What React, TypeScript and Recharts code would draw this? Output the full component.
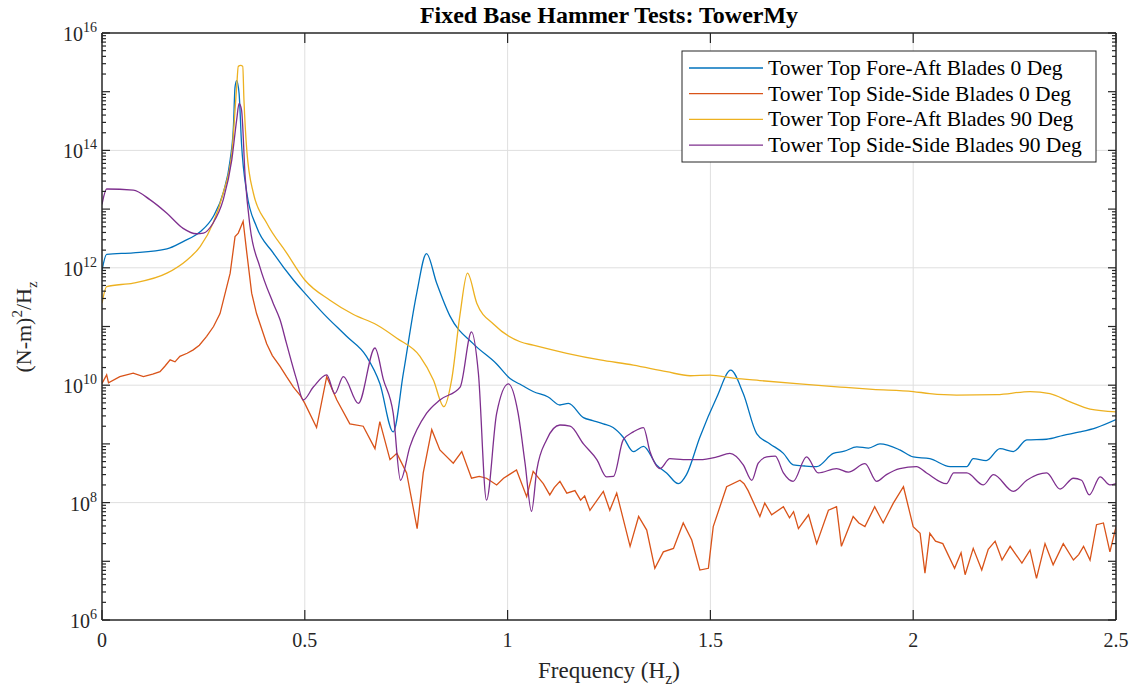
import { Line, LineChart, ReferenceLine, XAxis, YAxis } from "recharts"

// [frequency (Hz), PSD ((N-m)^2/Hz)]
type Point = [number, number]

const foreAft0: Point[] = [
    [0, 9e11], [0.0115, 1.7e12], [0.077, 1.8e12], [0.16, 2.1e12], [0.2, 2.8e12],
    [0.242, 4.1e12], [0.274, 7.4e12], [0.299, 1.9e13], [0.316, 6.9e13], [0.324, 2.5e14],
    [0.328, 1.2e15], [0.332, 1.55e15], [0.338, 9.3e14], [0.344, 1.3e14], [0.357, 1.9e13],
    [0.381, 5e12], [0.422, 1.8e12], [0.472, 6.2e11], [0.5, 3.7e11], [0.546, 1.66e11],
    [0.603, 6.8e10], [0.652, 3.1e10], [0.685, 1.07e10], [0.718, 1.6e9], [0.743, 1.6e10],
    [0.776, 3.7e11], [0.8, 1.75e12], [0.825, 5.5e11], [0.858, 1.5e11], [0.915, 5.1e10],
    [0.973, 2.3e10], [1.006, 1.3e10], [1.035, 1.0e10], [1.063, 7.8e9], [1.1, 6.3e9],
    [1.129, 4.6e9], [1.15, 4.9e9], [1.187, 2.8e9], [1.21, 2.5e9], [1.236, 2.2e9],
    [1.26, 1.9e9], [1.285, 1.3e9], [1.31, 7.4e8], [1.335, 9.1e8], [1.367, 4.4e8],
    [1.392, 3.2e8], [1.421, 2.1e8], [1.441, 3e8], [1.474, 1.3e9], [1.516, 6.3e9],
    [1.55, 1.8e10], [1.581, 7.2e9], [1.614, 1.5e9], [1.647, 1.0e9], [1.68, 6.9e8],
    [1.704, 4.4e8], [1.733, 4.2e8], [1.762, 4.1e8], [1.803, 6.9e8], [1.83, 7.5e8],
    [1.861, 8.9e8], [1.89, 8.5e8], [1.918, 1.0e9], [1.967, 7.9e8], [2.0, 6.0e8],
    [2.041, 5.6e8], [2.091, 4.1e8], [2.132, 4.1e8], [2.148, 5.6e8], [2.18, 5.2e8],
    [2.214, 8.3e8], [2.247, 7.4e8], [2.28, 1.17e9], [2.329, 1.2e9], [2.37, 1.4e9],
    [2.411, 1.6e9], [2.452, 1.9e9], [2.5, 2.6e9],
]

const sideSide0: Point[] = [
    [0, 1.07e10], [0.0115, 1.5e10], [0.016, 1.1e10], [0.044, 1.4e10], [0.077, 1.6e10],
    [0.102, 1.4e10], [0.125, 1.55e10], [0.143, 1.7e10], [0.155, 2.1e10], [0.168, 2.7e10],
    [0.18, 2.5e10], [0.192, 3.1e10], [0.21, 3.5e10], [0.225, 4.0e10], [0.24, 4.8e10],
    [0.258, 6.8e10], [0.275, 1.0e11], [0.291, 1.66e11], [0.316, 8.1e11], [0.328, 3.4e12],
    [0.336, 3.9e12], [0.348, 6.2e12], [0.357, 1.8e12], [0.369, 3.7e11], [0.381, 1.66e11],
    [0.406, 5.1e10], [0.42, 3.2e10], [0.439, 2.1e10], [0.455, 1.4e10], [0.472, 9.3e9],
    [0.49, 6.5e9], [0.5, 4.9e9], [0.529, 1.9e9], [0.554, 1.4e10], [0.579, 5.6e9],
    [0.611, 2.2e9], [0.644, 2.0e9], [0.673, 8.3e8], [0.685, 2.4e9], [0.71, 5.4e8],
    [0.727, 6.9e8], [0.751, 3.2e8], [0.777, 3.6e7], [0.792, 3.2e8], [0.813, 1.75e9],
    [0.833, 7.9e8], [0.866, 4.7e8], [0.887, 7.4e8], [0.911, 2.6e8], [0.93, 2.8e8],
    [0.948, 2.6e8], [0.973, 2.0e8], [0.99, 2.6e8], [1.022, 3.6e8], [1.047, 1.26e8],
    [1.063, 3.4e8], [1.088, 2.1e8], [1.104, 1.35e8], [1.115, 1.8e8], [1.129, 2.3e8],
    [1.146, 1.45e8], [1.166, 1.6e8], [1.18, 1.1e8], [1.19, 1.3e8], [1.203, 7.4e7],
    [1.236, 1.55e8], [1.252, 7.4e7], [1.269, 1.45e8], [1.302, 1.8e7], [1.323, 5.8e7],
    [1.343, 3.4e7], [1.363, 7.6e6], [1.384, 1.45e7], [1.409, 1.66e7], [1.433, 4.5e7],
    [1.454, 2.3e7], [1.474, 7.1e6], [1.495, 7.6e6], [1.507, 3.9e7], [1.54, 1.86e8],
    [1.573, 2.4e8], [1.583, 2.1e8], [1.593, 1.6e8], [1.622, 5.8e7], [1.634, 9.8e7],
    [1.651, 6.2e7], [1.68, 8.5e7], [1.695, 5.5e7], [1.705, 7e7], [1.717, 3.6e7],
    [1.742, 6.2e7], [1.762, 2.0e7], [1.791, 7.4e7], [1.811, 8.5e7], [1.823, 1.8e7],
    [1.852, 5.8e7], [1.866, 4.5e7], [1.881, 3.9e7], [1.905, 8.5e7], [1.926, 4.5e7],
    [1.951, 9.8e7], [1.976, 1.86e8], [2.0, 3.9e7], [2.017, 3.0e7], [2.029, 6.3e6],
    [2.041, 3.0e7], [2.055, 2.2e7], [2.073, 2.0e7], [2.102, 7.6e6], [2.118, 1.4e7],
    [2.128, 5.9e6], [2.148, 1.66e7], [2.169, 7.1e6], [2.185, 1.6e7], [2.202, 2.2e7],
    [2.219, 1.05e7], [2.239, 1.8e7], [2.268, 9.3e6], [2.288, 1.55e7], [2.304, 5.1e6],
    [2.325, 2.0e7], [2.345, 8.7e6], [2.37, 2.0e7], [2.395, 1.05e7], [2.408, 1.3e7],
    [2.42, 1.8e7], [2.436, 1.05e7], [2.452, 4.2e7], [2.469, 4.5e7], [2.485, 1.45e7],
    [2.5, 3.9e7],
]

const foreAft90: Point[] = [
    [0, 2.5e11], [0.0115, 4.8e11], [0.077, 5.5e11], [0.16, 8.1e11], [0.209, 1.35e12],
    [0.242, 2.3e12], [0.274, 5.8e12], [0.299, 1.9e13], [0.32, 8.9e13], [0.332, 1.2e15],
    [0.336, 2.7e15], [0.342, 2.8e15], [0.347, 2.7e15], [0.35, 7.2e14], [0.357, 1.0e14],
    [0.373, 1.9e13], [0.406, 5.8e12], [0.455, 1.8e12], [0.5, 6.2e11], [0.562, 2.8e11],
    [0.62, 1.6e11], [0.677, 1.07e11], [0.727, 6.3e10], [0.784, 3.1e10], [0.817, 1.23e10],
    [0.843, 4.3e9], [0.862, 1.23e10], [0.883, 1.66e11], [0.901, 8.1e11], [0.924, 2.5e11],
    [0.965, 1.1e11], [1.031, 5.5e10], [1.063, 4.8e10], [1.146, 3.5e10], [1.228, 2.7e10],
    [1.31, 2.2e10], [1.392, 1.7e10], [1.45, 1.45e10], [1.499, 1.48e10], [1.557, 1.32e10],
    [1.622, 1.2e10], [1.72, 1.05e10], [1.82, 9.3e9], [1.9, 8.5e9], [2.0, 7.8e9],
    [2.041, 7.2e9], [2.107, 6.8e9], [2.206, 6.9e9], [2.288, 7.8e9], [2.337, 7.2e9],
    [2.387, 5.2e9], [2.436, 3.9e9], [2.5, 3.5e9],
]

const sideSide90: Point[] = [
    [0, 1.2e13], [0.0115, 2.2e13], [0.077, 2.1e13], [0.118, 1.45e13], [0.16, 8.5e12],
    [0.2, 4.7e12], [0.233, 3.8e12], [0.25, 3.9e12], [0.274, 5.8e12], [0.299, 1.45e13],
    [0.32, 6.9e13], [0.332, 3.3e14], [0.338, 6.3e14], [0.344, 4.9e14], [0.353, 3.5e13],
    [0.365, 5e12], [0.389, 1.05e12], [0.422, 2.5e11], [0.439, 1.3e11], [0.455, 5.1e10],
    [0.48, 1.23e10], [0.496, 5.6e9], [0.521, 9.3e9], [0.554, 1.5e10], [0.574, 7.2e9],
    [0.595, 1.4e10], [0.632, 4.9e9], [0.673, 4.3e10], [0.694, 1.23e10], [0.718, 3.3e9],
    [0.736, 2.4e8], [0.759, 8.9e8], [0.8, 3.3e9], [0.833, 5.6e9], [0.883, 9.3e9],
    [0.911, 8.1e10], [0.928, 1.6e10], [0.948, 1.1e8], [0.973, 3.3e9], [1.002, 1.05e10],
    [1.026, 3.3e9], [1.043, 4.7e8], [1.059, 7.1e7], [1.072, 3.6e8], [1.096, 1.17e9],
    [1.129, 2.1e9], [1.154, 2.0e9], [1.187, 1.0e9], [1.22, 5.4e8], [1.244, 2.75e8],
    [1.261, 2.8e8], [1.285, 1.17e9], [1.31, 1.6e9], [1.335, 1.9e9], [1.351, 7.4e8],
    [1.376, 3.8e8], [1.4, 5.6e8], [1.433, 5.4e8], [1.474, 5.4e8], [1.516, 6.0e8],
    [1.548, 6.9e8], [1.581, 4.4e8], [1.602, 2.4e8], [1.618, 4.7e8], [1.639, 6.0e8],
    [1.66, 6.2e8], [1.68, 3.2e8], [1.704, 2.3e8], [1.737, 6.0e8], [1.766, 3.2e8],
    [1.811, 3.8e8], [1.84, 3.3e8], [1.881, 4.6e8], [1.91, 2.3e8], [1.934, 3.0e8],
    [1.967, 3.8e8], [2.008, 4.1e8], [2.033, 3.2e8], [2.082, 2.1e8], [2.1, 3.2e8],
    [2.132, 3.2e8], [2.173, 2.0e8], [2.198, 3.0e8], [2.247, 1.55e8], [2.28, 2.4e8],
    [2.329, 3.2e8], [2.362, 1.7e8], [2.395, 2.6e8], [2.415, 2.4e8], [2.434, 1.35e8],
    [2.461, 2.75e8], [2.485, 2.0e8], [2.5, 2.1e8],
]

const seriesNames = [
    "Tower Top Fore-Aft Blades 0 Deg",
    "Tower Top Side-Side Blades 0 Deg",
    "Tower Top Fore-Aft Blades 90 Deg",
    "Tower Top Side-Side Blades 90 Deg",
]
const seriesColors = ["#0072BD", "#D95319", "#EDB120", "#7E2F8E"]
const seriesPoints = [foreAft0, sideSide0, foreAft90, sideSide90]
// the side-side 0 deg record is noisy, keep it as straight segments
const seriesCurve = ["monotone", "linear", "monotone", "monotone"] as const

const freqTicks = [0, 0.5, 1, 1.5, 2, 2.5]
const freqGrid = [0.5, 1, 1.5, 2]
const psdGrid = [1e8, 1e10, 1e12, 1e14]

const W = 1135
const H = 693
const PLOT = { left: 102, top: 33, right: 1116, bottom: 620 }
const AXIS = "#262626"
const GRID = "#dfdfdf"
const FONT = '"Liberation Serif", "Times New Roman", serif'

// every decade plus its 2..9 minor steps
const psdTicks: number[] = []
for (let e = 6; e < 16; e++) for (let m = 1; m <= 9; m++) psdTicks.push(m * 10 ** e)
psdTicks.push(1e16)

function YTick({ x, y, payload, side }: any) {
    const v = payload.value
    const exp = Math.round(Math.log10(v))
    const major = v === 10 ** exp
    const len = major ? 8 : 4
    const dir = side === "left" ? 1 : -1
    return (
        <g>
            <line x1={x} x2={x + dir * len} y1={y} y2={y} stroke={AXIS} strokeWidth={1.2} />
            {side === "left" && major && exp % 2 === 0 && (
                <text x={x - 5} y={y + 8} textAnchor="end" fontFamily={FONT} fontSize={20} fill={AXIS}>
                    10<tspan dy={-9} fontSize={14}>{exp}</tspan>
                </text>
            )}
        </g>
    )
}

function XTick({ x, y, payload, side }: any) {
    const dir = side === "bottom" ? -1 : 1
    return (
        <g>
            <line x1={x} x2={x} y1={y} y2={y + dir * 10} stroke={AXIS} strokeWidth={1.2} />
            {side === "bottom" && (
                <text x={x} y={y + 27} textAnchor="middle" fontFamily={FONT} fontSize={20} fill={AXIS}>
                    {payload.value}
                </text>
            )}
        </g>
    )
}

// axes need a non-zero size to be drawn, so each one takes 1px of margin
const axisSize = 1

export default function App() {
    const series = seriesPoints.map((pts, i) => ({
        name: seriesNames[i],
        color: seriesColors[i],
        curve: seriesCurve[i],
        data: pts.map(([f, v]) => ({ f, v })),
    }))

    const common = {
        type: "number" as const,
        allowDataOverflow: true,
        interval: 0 as const,
        tickSize: 0,
        tickMargin: 0,
        tickLine: false,
        axisLine: { stroke: AXIS, strokeWidth: 1.5 },
    }

    return (
        <div style={{ position: "absolute", left: 0, top: 0, width: W, height: H, background: "#fff" }}>
            <LineChart
                width={W}
                height={H}
                margin={{
                    top: PLOT.top - axisSize,
                    right: W - PLOT.right - axisSize,
                    bottom: H - PLOT.bottom - axisSize,
                    left: PLOT.left - axisSize,
                }}
            >
                <XAxis
                    {...common}
                    dataKey="f"
                    domain={[0, 2.5]}
                    ticks={freqTicks}
                    height={axisSize}
                    tick={(p: any) => <XTick {...p} side="bottom" />}
                />
                <XAxis
                    {...common}
                    xAxisId="top"
                    orientation="top"
                    dataKey="f"
                    domain={[0, 2.5]}
                    ticks={freqTicks}
                    height={axisSize}
                    tick={(p: any) => <XTick {...p} side="top" />}
                />
                <YAxis
                    {...common}
                    scale="log"
                    domain={[1e6, 1e16]}
                    ticks={psdTicks}
                    width={axisSize}
                    tick={(p: any) => <YTick {...p} side="left" />}
                />
                <YAxis
                    {...common}
                    yAxisId="right"
                    orientation="right"
                    scale="log"
                    domain={[1e6, 1e16]}
                    ticks={psdTicks}
                    width={axisSize}
                    tick={(p: any) => <YTick {...p} side="right" />}
                />
                {freqGrid.map((f) => (
                    <ReferenceLine key={`gx-${f}`} x={f} stroke={GRID} strokeWidth={1} />
                ))}
                {psdGrid.map((v) => (
                    <ReferenceLine key={`gy-${v}`} y={v} stroke={GRID} strokeWidth={1} />
                ))}
                {series.map((s) => (
                    <Line
                        key={s.name}
                        data={s.data}
                        dataKey="v"
                        name={s.name}
                        type={s.curve}
                        stroke={s.color}
                        strokeWidth={1.3}
                        dot={false}
                        activeDot={false}
                        isAnimationActive={false}
                    />
                ))}
            </LineChart>

            <svg
                width={W}
                height={H}
                style={{ position: "absolute", left: 0, top: 0, pointerEvents: "none" }}
                fontFamily={FONT}
            >
                <text x={609} y={23} textAnchor="middle" fontSize={24} fontWeight="bold" fill="#000">
                    Fixed Base Hammer Tests: TowerMy
                </text>
                <text x={609} y={678} textAnchor="middle" fontSize={23} fill={AXIS}>
                    Frequency (H<tspan dy={6} fontSize={16}>z</tspan><tspan dy={-6}>)</tspan>
                </text>
                <text transform="translate(31,327) rotate(-90)" textAnchor="middle" fontSize={22} fill={AXIS}>
                    (N-m)<tspan dy={-9} fontSize={15}>2</tspan><tspan dy={9}>/H</tspan>
                    <tspan dy={6} fontSize={15}>z</tspan>
                </text>

                <rect x={682} y={51} width={414} height={111} fill="#fff" stroke={AXIS} strokeWidth={1} />
                {series.map((s, i) => {
                    const cy = 68 + i * 25.7
                    return (
                        <g key={s.name}>
                            <line x1={689} x2={763} y1={cy} y2={cy} stroke={s.color} strokeWidth={1.3} />
                            <text x={768} y={cy + 7} fontSize={21.5} fill="#000">
                                {s.name}
                            </text>
                        </g>
                    )
                })}
            </svg>
        </div>
    )
}
